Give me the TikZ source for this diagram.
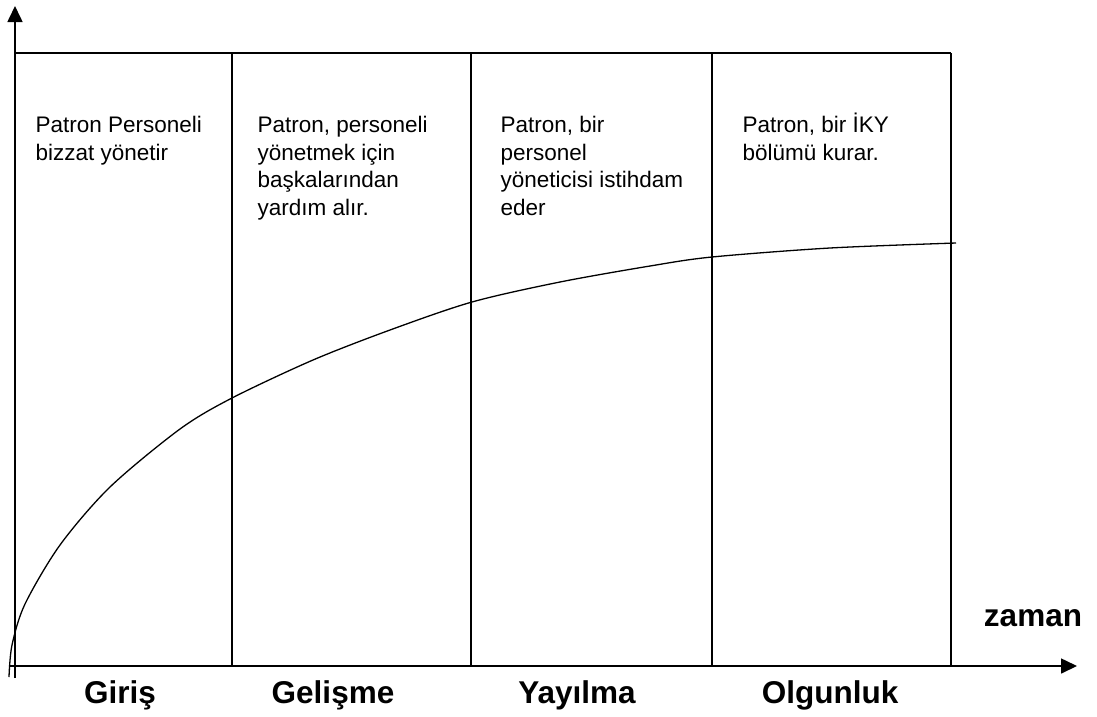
\documentclass[tikz,border=0pt]{standalone}
\usepackage{fontspec}
\setmainfont{Liberation Sans}
\usetikzlibrary{arrows.meta}

\begin{document}
\begin{tikzpicture}[x=1pt, y=-1pt, line width=1.3pt,
    every node/.style={inner sep=0pt},
    axis/.style={line width=1.6pt,-{Triangle[length=16pt,width=15pt]}},
    stage/.style={font=\bfseries\fontsize{31.5}{38}\selectfont, anchor=base},
    note/.style={font=\fontsize{22.5}{27.5}\selectfont, align=left, anchor=north west}]
    \useasboundingbox (0,0) rectangle (1097,716);
    \coordinate (ybot) at (15,678);
    \coordinate (ytop) at (15,6);
    \coordinate (xleft) at (10,666);
    \coordinate (xright) at (1077,666);
    \coordinate (tl) at (15,53);
    \coordinate (tr) at (951,53);

    \draw[axis] (ybot) -- (ytop);
    \draw[axis] (xleft) -- (xright);
    \draw[line width=1.6pt] (tl) -- (tr);
    \foreach \x in {232,471,712,951}
        \draw (\x,53) -- (\x,666);

    % growth curve
    \draw plot[smooth] coordinates {(9,677) (12,645) (25,604) (60,545) (110,487)
        (180,429) (232,398) (313,360) (390,330) (472,302) (560,282) (650,266)
        (712,257) (830,248) (956,243)};

    \node[note] (n1) at (35,116) {Patron Personeli\\bizzat yönetir};
    \node[note] (n2) at (257,116) {Patron, personeli\\yönetmek için\\başkalarından\\yardım alır.};
    \node[note] (n3) at (500,116) {Patron, bir\\personel\\yöneticisi istihdam\\eder};
    \node[note] (n4) at (742,116) {Patron, bir \smash{İ}KY\\bölümü kurar.};

    \node[stage] (giris) at (120,703) {Giriş};
    \node[stage] (gelisme) at (333,703) {Gelişme};
    \node[stage] (yayilma) at (577,703) {Yayılma};
    \node[stage] (olgunluk) at (830,703) {Olgunluk};
    \node[stage] (zaman) at (1033,626) {zaman};
\end{tikzpicture}
\end{document}
